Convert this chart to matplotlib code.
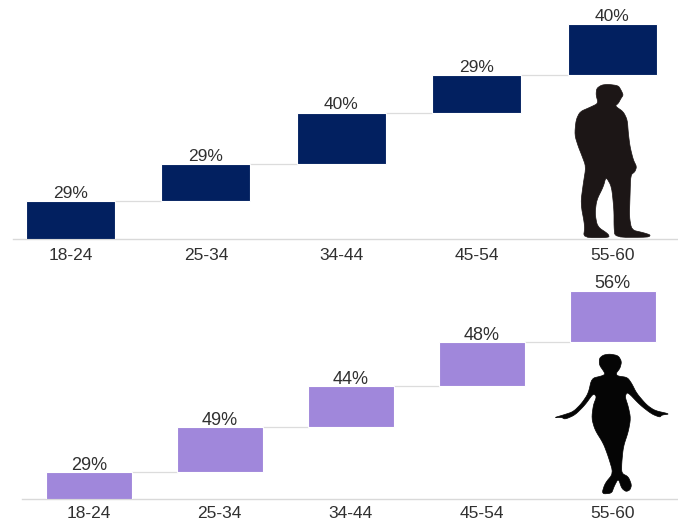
import numpy as np
import matplotlib
matplotlib.use("Agg")
import matplotlib.pyplot as plt
from matplotlib.patches import Polygon

age_groups = ["18-24", "25-34", "34-44", "45-54", "55-60"]
men_values = [29, 29, 40, 29, 40]
women_values = [29, 49, 44, 48, 56]

W, H = 678, 522
plt.rcParams["font.family"] = ["Liberation Sans", "DejaVu Sans"]
fig = plt.figure(figsize=(W / 100, H / 100), dpi=100, facecolor="white")


def panel(values, color, left, right, top, base, xlim, ylim, width, fs_val, fs_tick, pad, offset):
    ax = fig.add_axes([left / W, 1 - base / H, (right - left) / W, (base - top) / H])
    vals = np.array(values, dtype=float)
    tops = np.cumsum(vals)
    bottoms = tops - vals
    x = np.arange(len(vals))
    ax.bar(x, vals, width=width, bottom=bottoms, color=color,
           edgecolor="white", linewidth=0.8, zorder=3)
    for i in range(len(vals) - 1):
        ax.plot([x[i] + width / 2, x[i + 1] - width / 2], [tops[i], tops[i]],
                color="#dcdcdc", lw=0.9, zorder=2)
    for xi, t, v in zip(x, tops, values):
        ax.annotate(f"{v}%", (xi, t), xytext=(0, offset), textcoords="offset points",
                    ha="center", va="bottom", fontsize=fs_val, color="#303030", zorder=4)
    ax.set_xlim(*xlim)
    ax.set_ylim(*ylim)
    ax.set_xticks(x, age_groups)
    ax.set_yticks([])
    ax.tick_params(axis="x", length=0, pad=pad, labelsize=fs_tick, labelcolor="#303030")
    for s in ["top", "left", "right"]:
        ax.spines[s].set_visible(False)
    ax.spines["bottom"].set_color("#d9d9d9")
    ax.spines["bottom"].set_linewidth(1)
    ax.patch.set_alpha(0)
    return ax


panel(men_values, "#022060", 13, 678, 0, 238.5, (-0.425, 4.487), (0, 238.5 / 1.285),
      89 / 135.4, 12.5, 12.5, 7, 0.2)
panel(women_values, "#A087DB", 22, 678, 270, 498.5, (-0.51, 4.50), (0, 228.5 / 0.92),
      86 / 130.9, 13, 12.5, 5.5, -1.3)


def smooth(pts, rounds=2):
    p = np.array(pts, dtype=float)
    for _ in range(rounds):
        q = np.roll(p, -1, axis=0)
        p = np.column_stack([0.8 * p + 0.2 * q, 0.2 * p + 0.8 * q]).reshape(-1, 2)
    return p


# Decorative silhouettes, traced in image pixels
overlay = fig.add_axes([0, 0, 1, 1])
overlay.set_xlim(0, W)
overlay.set_ylim(H, 0)
overlay.axis("off")
overlay.patch.set_alpha(0)

man = [(205,43),(235,47),(243,60),(250,75),(243,85),(235,100),(225,108),(250,125),(262,150),(265,190),
       (270,230),(280,270),(290,290),(285,305),(272,315),(270,380),(268,440),(275,480),(310,488),(332,495),
       (325,502),(225,502),(222,470),(222,420),(215,350),(198,320),(190,350),(170,390),(165,430),(172,470),
       (205,492),(208,503),(130,503),(135,470),(122,400),(130,340),(138,290),(125,255),(115,230),(104,195),
       (108,150),(120,125),(150,112),(175,100),(168,75),(170,55),(185,45)]
woman = [(210,42),(235,47),(245,65),(240,85),(228,100),(232,108),(262,112),(275,130),(290,160),(320,195),
         (345,212),(390,222),(365,225),(360,232),(335,222),(300,195),(262,155),(255,170),(265,200),(272,235),
         (265,275),(250,320),(245,370),(245,400),(265,410),(275,435),(270,450),(258,455),(245,445),(235,415),
         (222,440),(215,460),(185,462),(195,430),(220,400),(205,350),(190,310),(165,270),(155,235),(160,195),
         (170,170),(160,160),(135,195),(105,225),(75,238),(65,232),(42,233),(70,225),(100,215),(125,190),
         (145,160),(155,115),(185,108),(195,103),(192,95),(178,75),(178,55),(190,45)]
s = 1 / 3
overlay.add_patch(Polygon(smooth([(540 + a * s, 70 + b * s) for a, b in man]), closed=True,
                          fc="#1c1616", ec="#1c1616", lw=0.5, joinstyle="round"))
overlay.add_patch(Polygon(smooth([(540 + a * s, 340 + b * s) for a, b in woman]), closed=True,
                          fc="#050505", ec="#050505", lw=0.5, joinstyle="round"))

fig.savefig("out.png", dpi=100)
